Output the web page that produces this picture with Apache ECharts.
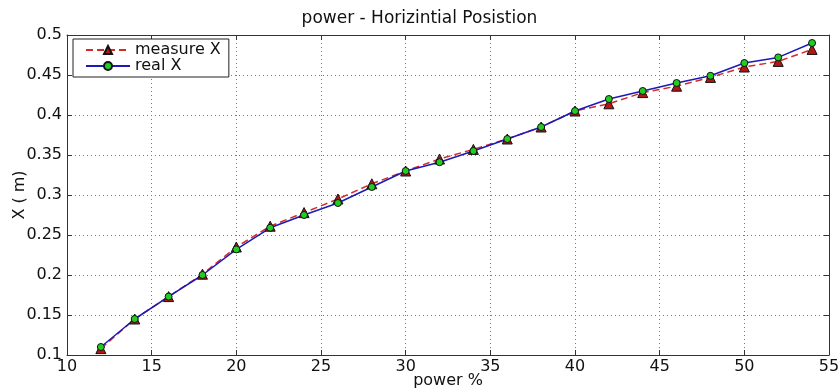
<!DOCTYPE html>
<html>
<head>
<meta charset="utf-8">
<title>power - Horizintial Posistion</title>
<script src="https://cdn.jsdelivr.net/npm/echarts@6/dist/echarts.min.js"></script>
<style>
  html, body { margin: 0; padding: 0; background: #fff; }
  #main { width: 839px; height: 388px; }
</style>
</head>
<body>
<div id="main"></div>
<script>
// power (%) on x
var power = [12, 14, 16, 18, 20, 22, 24, 26, 28, 30, 32, 34, 36, 38, 40, 42, 44, 46, 48, 50, 52, 54];
// measured X (m)
var measureX = [0.108, 0.145, 0.173, 0.201, 0.235, 0.261, 0.278, 0.295, 0.314, 0.330, 0.345,
  0.357, 0.370, 0.385, 0.405, 0.414, 0.428, 0.436, 0.447, 0.460, 0.467, 0.482];
// real X (m)
var realX = [0.110, 0.145, 0.173, 0.200, 0.232, 0.259, 0.275, 0.290, 0.310, 0.330, 0.341,
  0.355, 0.370, 0.385, 0.405, 0.420, 0.430, 0.440, 0.449, 0.465, 0.472, 0.490];

var FONT = 'DejaVu Sans';
var axisColor = '#333';
// sparse matlab-like dotted grid
var gridLine = { type: [1, 3], color: '#777', width: 1 };

function pairs(xs, ys) {
  return xs.map(function (x, i) { return [x, ys[i]]; });
}

var chart = echarts.init(document.getElementById('main'), null, { renderer: 'canvas' });

var option = {
  animation: false,
  backgroundColor: '#fff',
  title: {
    text: 'power - Horizintial Posistion',
    left: 'center',
    top: 5,
    textStyle: { fontFamily: FONT, fontSize: 17, fontWeight: 'normal', color: '#111' }
  },
  legend: {
    orient: 'vertical',
    left: 73,
    top: 39,
    padding: [3, 8, 3, 12],
    itemGap: 0,
    itemWidth: 44,
    itemHeight: 10,
    borderColor: '#222',
    borderWidth: 1,
    backgroundColor: '#fff',
    textStyle: { fontFamily: FONT, fontSize: 16, color: '#111', lineHeight: 16 },
    data: ['measure X', 'real X']
  },
  grid: { left: 67, right: 10, top: 35, bottom: 33, outerBoundsMode: 'none', containLabel: false },
  xAxis: [{
    type: 'value',
    min: 10,
    max: 55,
    interval: 5,
    position: 'bottom',
    name: 'power %',
    nameLocation: 'middle',
    nameGap: 18,
    nameMoveOverlap: false,
    nameTextStyle: { fontFamily: FONT, fontSize: 16, color: '#111' },
    axisLine: { lineStyle: { color: axisColor, width: 1 } },
    axisTick: { inside: true, length: 5, lineStyle: { color: axisColor } },
    axisLabel: { fontFamily: FONT, fontSize: 16, color: '#111', margin: 4 },
    splitLine: { show: true, lineStyle: gridLine }
  }, {
    type: 'value',
    min: 10,
    max: 55,
    interval: 5,
    position: 'top',
    axisLine: { lineStyle: { color: axisColor, width: 1 } },
    axisTick: { inside: true, length: 5, lineStyle: { color: axisColor } },
    axisLabel: { show: false },
    splitLine: { show: false }
  }],
  yAxis: [{
    type: 'value',
    min: 0.1,
    max: 0.5,
    interval: 0.05,
    position: 'left',
    name: 'X ( m)',
    nameLocation: 'middle',
    nameGap: 39,
    nameMoveOverlap: false,
    nameTextStyle: { fontFamily: FONT, fontSize: 16, color: '#111' },
    axisLine: { show: true, lineStyle: { color: axisColor, width: 1 } },
    axisTick: { show: true, inside: true, length: 5, lineStyle: { color: axisColor } },
    axisLabel: { fontFamily: FONT, fontSize: 16, color: '#111', margin: 5 },
    splitLine: { show: true, lineStyle: gridLine }
  }, {
    type: 'value',
    min: 0.1,
    max: 0.5,
    interval: 0.05,
    position: 'right',
    axisLine: { show: true, lineStyle: { color: axisColor, width: 1 } },
    axisTick: { show: true, inside: true, length: 5, lineStyle: { color: axisColor } },
    axisLabel: { show: false },
    splitLine: { show: false }
  }],
  series: [{
    name: 'measure X',
    type: 'line',
    xAxisIndex: 0,
    yAxisIndex: 0,
    data: pairs(power, measureX),
    symbol: 'triangle',
    symbolSize: 10,
    showAllSymbol: true,
    lineStyle: { color: '#d42a2a', width: 1.5, type: [7, 4] },
    itemStyle: { color: '#b81414', borderColor: '#111', borderWidth: 1 }
  }, {
    name: 'real X',
    type: 'line',
    xAxisIndex: 0,
    yAxisIndex: 0,
    data: pairs(power, realX),
    symbol: 'circle',
    symbolSize: 7,
    showAllSymbol: true,
    lineStyle: { color: '#1a1ab8', width: 1.5 },
    itemStyle: { color: '#22cc22', borderColor: '#111', borderWidth: 1 }
  }]
};

chart.setOption(option);
</script>
</body>
</html>
